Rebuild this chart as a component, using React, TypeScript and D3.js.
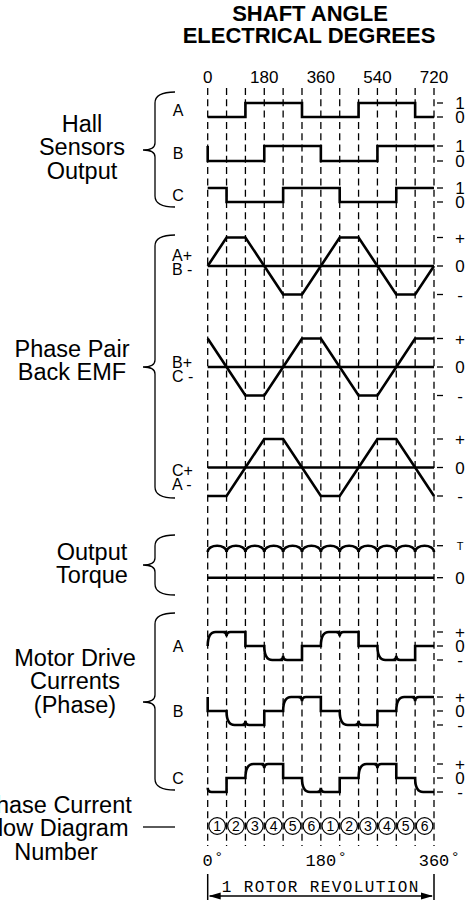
import * as d3 from 'd3';

// electrical degrees where the dashed guide lines sit
const gridDegrees = [0, 60, 120, 180, 240, 300, 360, 420, 480, 540, 600, 660, 720];
const topTickLabels = [0, 180, 360, 540, 720];
const rotorTickLabels = [0, 180, 360];
const rotorTickAt = [0, 360, 720];

// hall sensors, one value per 60 deg interval
const hallA = [0, 0, 1, 1, 1, 0, 0, 0, 1, 1, 1, 0];
const hallB = [0, 0, 0, 1, 1, 1, 0, 0, 0, 1, 1, 1];
const hallC = [1, 0, 0, 0, 1, 1, 1, 0, 0, 0, 1, 1];

// back emf, value at each guide line
const emfAB = [0, 1, 1, 0, -1, -1, 0, 1, 1, 0, -1, -1, 0];
const emfBC = [1, 0, -1, -1, 0, 1, 1, 0, -1, -1, 0, 1, 1];
const emfCA = [-1, -1, 0, 1, 1, 0, -1, -1, 0, 1, 1, 0, -1];

// output torque: value at guide lines (cusps) and arc peaks between them
const torqueCusp = [0.8, 0.8, 0.8, 0.8, 0.8, 0.8, 0.8, 0.8, 0.8, 0.8, 0.8, 0.8, 0.8];
const torquePeak = [1, 1, 1, 1, 1, 1, 1, 1, 1, 1, 1, 1];

// motor drive currents, one level per 60 deg interval
const currentA = [1, 1, 0, -1, -1, 0, 1, 1, 0, -1, -1, 0];
const currentB = [0, -1, -1, 0, 1, 1, 0, -1, -1, 0, 1, 1];
const currentC = [-1, 0, 1, 1, 0, -1, -1, 0, 1, 1, 0, -1];

const flowNumbers = [1, 2, 3, 4, 5, 6, 1, 2, 3, 4, 5, 6];

const SANS = '"Liberation Sans", Arial, sans-serif';
const MONO = '"Liberation Mono", "DejaVu Sans Mono", monospace';

const x = d3.scaleLinear().domain([0, 720]).range([207.7, 434]);

const hallRows = [
  { name: 'A', data: hallA, y: d3.scaleLinear().domain([0, 1]).range([117, 103]) },
  { name: 'B', data: hallB, y: d3.scaleLinear().domain([0, 1]).range([161, 146]) },
  { name: 'C', data: hallC, y: d3.scaleLinear().domain([0, 1]).range([202, 188]) },
];

const emfRows = [
  { top: 'A+', bot: 'B -', data: emfAB, y: d3.scaleLinear().domain([-1, 1]).range([294.5, 237.5]), ly: 261 },
  { top: 'B+', bot: 'C -', data: emfBC, y: d3.scaleLinear().domain([-1, 1]).range([395.5, 338.5]), ly: 368 },
  { top: 'C+', bot: 'A -', data: emfCA, y: d3.scaleLinear().domain([-1, 1]).range([496, 439]), ly: 476 },
];

const yTorque = d3.scaleLinear().domain([0, 1]).range([577.7, 545.7]);

const currentRows = [
  { name: 'A', data: currentA, y: d3.scaleLinear().domain([-1, 1]).range([660, 632]) },
  { name: 'B', data: currentB, y: d3.scaleLinear().domain([-1, 1]).range([725, 697]) },
  { name: 'C', data: currentC, y: d3.scaleLinear().domain([-1, 1]).range([792, 764]) },
];

function hallPath(data: number[], y: (v: number) => number) {
  const p = d3.path();
  const prev = data[data.length - 1];
  p.moveTo(x(0), y(prev));
  data.forEach((v, i) => {
    p.lineTo(x(i * 60), y(v));
    p.lineTo(x((i + 1) * 60), y(v));
  });
  return p.toString();
}

const emfLine = (y: (v: number) => number) =>
  d3
    .line<number>()
    .x((_, i) => x(gridDegrees[i]))
    .y((d) => y(d));

function torquePath() {
  const p = d3.path();
  p.moveTo(x(0), yTorque(torqueCusp[0]));
  torquePeak.forEach((pk, i) => {
    const x0 = x(gridDegrees[i]);
    const x1 = x(gridDegrees[i + 1]);
    const y0 = yTorque(torqueCusp[i]);
    const y1 = yTorque(torqueCusp[i + 1]);
    const yc = (yTorque(pk) - 0.125 * (y0 + y1)) / 0.75;
    p.bezierCurveTo(x0, yc, x1, yc, x1, y1);
  });
  return p.toString();
}

function currentPath(data: number[], y: (v: number) => number) {
  const p = d3.path();
  const n = 4; // notch half width
  const r = 8; // rounded rise
  const notchK = 0.7;
  data.forEach((v, i) => {
    const prev = i === 0 ? data[data.length - 1] : data[i - 1];
    const x0 = x(i * 60);
    const x1 = x((i + 1) * 60);
    if (prev === v) {
      if (v !== 0) {
        if (i === 0) p.moveTo(x0, y(v * notchK));
        else {
          p.lineTo(x0 - n, y(v));
          p.quadraticCurveTo(x0, y(v), x0, y(v * notchK));
        }
        p.quadraticCurveTo(x0, y(v), x0 + n, y(v));
      } else if (i === 0) p.moveTo(x0, y(0));
    } else if (v === 0) {
      if (i === 0) p.moveTo(x0, y(prev));
      else p.lineTo(x0, y(prev));
      p.lineTo(x0, y(0));
    } else {
      if (i === 0) p.moveTo(x0, y(0));
      else p.lineTo(x0, y(0));
      p.quadraticCurveTo(x0, y(v), x0 + r, y(v));
    }
    p.lineTo(x1, y(v));
  });
  return p.toString();
}

function bracePath(top: number, bottom: number, tip: number) {
  const xr = 175;
  const xv = 155;
  const xt = 143;
  const p = d3.path();
  p.moveTo(xr, top);
  p.quadraticCurveTo(xv, top, xv, top + 11);
  p.lineTo(xv, tip - 7);
  p.quadraticCurveTo(xv, tip, xt, tip);
  p.quadraticCurveTo(xv, tip, xv, tip + 7);
  p.lineTo(xv, bottom - 11);
  p.quadraticCurveTo(xv, bottom, xr, bottom);
  return p.toString();
}

function RightTick({ y, label, small }: { y: number; label: string; small?: boolean }) {
  return (
    <g>
      <line x1={437} x2={443} y1={y} y2={y} stroke="#000" strokeWidth={1.3} />
      <text
        x={460}
        y={y}
        dy="0.36em"
        textAnchor="middle"
        fontSize={small ? 11 : 17}
        fontFamily={SANS}
      >
        {label}
      </text>
    </g>
  );
}

function Block({ lines, cx, y0 }: { lines: string[]; cx: number; y0: number }) {
  return (
    <text textAnchor="middle" fontSize={23.5} fontFamily={SANS}>
      {lines.map((l, i) => (
        <tspan key={i} x={cx} y={y0 + i * 23.3}>
          {l}
        </tspan>
      ))}
    </text>
  );
}

export default function App() {
  const stroke = 2.6;
  return (
    <svg
      width={474}
      height={900}
      style={{ position: 'absolute', left: 0, top: 0, background: '#fff' }}
    >
      {/* header */}
      <text textAnchor="middle" fontSize={22} fontWeight="bold" fontFamily={SANS}>
        <tspan x={310} y={21}>SHAFT ANGLE</tspan>
        <tspan x={309} y={43}>ELECTRICAL DEGREES</tspan>
      </text>
      {topTickLabels.map((d) => (
        <text key={d} x={x(d)} y={83} textAnchor="middle" fontSize={17} fontFamily={SANS}>
          {d}
        </text>
      ))}

      {/* dashed guide lines */}
      {gridDegrees.map((d) => (
        <line
          key={d}
          x1={x(d)}
          x2={x(d)}
          y1={88}
          y2={846}
          stroke="#000"
          strokeWidth={1.3}
          strokeDasharray="7,4.3"
        />
      ))}

      {/* hall sensors */}
      <Block lines={['Hall', 'Sensors', 'Output']} cx={82} y0={132} />
      <path d={bracePath(92, 207, 150)} fill="none" stroke="#000" strokeWidth={1.3} />
      {hallRows.map((r) => (
        <g key={r.name}>
          <text x={178} y={(r.y(0) + r.y(1)) / 2} dy="0.36em" textAnchor="middle" fontSize={16} fontFamily={SANS}>
            {r.name}
          </text>
          <path d={hallPath(r.data, r.y)} fill="none" stroke="#000" strokeWidth={stroke} />
          <RightTick y={r.y(1)} label="1" />
          <RightTick y={r.y(0)} label="0" />
        </g>
      ))}

      {/* back emf */}
      <Block lines={['Phase Pair', 'Back EMF']} cx={72} y0={357} />
      <path d={bracePath(235, 498, 367)} fill="none" stroke="#000" strokeWidth={1.3} />
      {emfRows.map((r) => (
        <g key={r.top}>
          <text x={172} fontSize={16} fontFamily={SANS}>
            <tspan x={172} y={r.ly}>{r.top}</tspan>
            <tspan x={172} y={r.ly + 14}>{r.bot}</tspan>
          </text>
          <line x1={x(0)} x2={x(720)} y1={r.y(0)} y2={r.y(0)} stroke="#000" strokeWidth={stroke} />
          <path d={emfLine(r.y)(r.data) || ''} fill="none" stroke="#000" strokeWidth={stroke} />
          <RightTick y={r.y(1)} label="+" />
          <RightTick y={r.y(0)} label="0" />
          <RightTick y={r.y(-1)} label="-" />
        </g>
      ))}

      {/* torque */}
      <Block lines={['Output', 'Torque']} cx={92} y0={560} />
      <path d={bracePath(535, 595, 565)} fill="none" stroke="#000" strokeWidth={1.3} />
      <path d={torquePath()} fill="none" stroke="#000" strokeWidth={stroke} />
      <line x1={x(0)} x2={x(720)} y1={yTorque(0)} y2={yTorque(0)} stroke="#000" strokeWidth={stroke} />
      <RightTick y={yTorque(1)} label="T" small />
      <RightTick y={yTorque(0)} label="0" />

      {/* currents */}
      <Block lines={['Motor Drive', 'Currents', '(Phase)']} cx={75} y0={666} />
      <path d={bracePath(613, 790, 702)} fill="none" stroke="#000" strokeWidth={1.3} />
      {currentRows.map((r) => (
        <g key={r.name}>
          <text x={178} y={r.y(0)} dy="0.36em" textAnchor="middle" fontSize={16} fontFamily={SANS}>
            {r.name}
          </text>
          <path d={currentPath(r.data, r.y)} fill="none" stroke="#000" strokeWidth={stroke} />
          <RightTick y={r.y(1)} label="+" />
          <RightTick y={r.y(0)} label="0" />
          <RightTick y={r.y(-1)} label="-" />
        </g>
      ))}

      {/* flow diagram numbers */}
      <Block lines={['Phase Current', 'Flow Diagram', 'Number']} cx={56} y0={813} />
      <line x1={143} x2={175} y1={827} y2={827} stroke="#000" strokeWidth={1.3} />
      {flowNumbers.map((n, i) => {
        const cx = x(i * 60 + 30);
        return (
          <g key={i}>
            <circle cx={cx} cy={826} r={8.3} fill="#fff" stroke="#000" strokeWidth={1.2} />
            <text x={cx} y={826} dy="0.36em" textAnchor="middle" fontSize={14} fontFamily={SANS}>
              {n}
            </text>
          </g>
        );
      })}

      {/* rotor revolution */}
      {rotorTickLabels.map((d, i) => {
        const cx = x(rotorTickAt[i]);
        const w = String(d).length * 10.2;
        return (
          <g key={d}>
            <text x={cx} y={866} textAnchor="middle" fontSize={17} fontFamily={MONO}>
              {d}
            </text>
            <text x={cx + w / 2 + 6} y={862} textAnchor="middle" fontSize={15} fontFamily={MONO}>
              °
            </text>
          </g>
        );
      })}
      <line x1={x(0)} x2={x(0)} y1={874} y2={900} stroke="#000" strokeWidth={1.5} />
      <line x1={x(720)} x2={x(720)} y1={874} y2={900} stroke="#000" strokeWidth={1.5} />
      <text x={(x(0) + x(720)) / 2} y={892} textAnchor="middle" fontSize={16} letterSpacing={1.4} fontFamily={MONO}>
        1 ROTOR REVOLUTION
      </text>
      <line x1={x(0) + 2} x2={x(720) - 2} y1={896} y2={896} stroke="#000" strokeWidth={1.3} />
      <path
        d={`M${x(0) + 1},896 l12,-3.5 l0,7 z M${x(720) - 1},896 l-12,-3.5 l0,7 z`}
        fill="#000"
      />
    </svg>
  );
}
